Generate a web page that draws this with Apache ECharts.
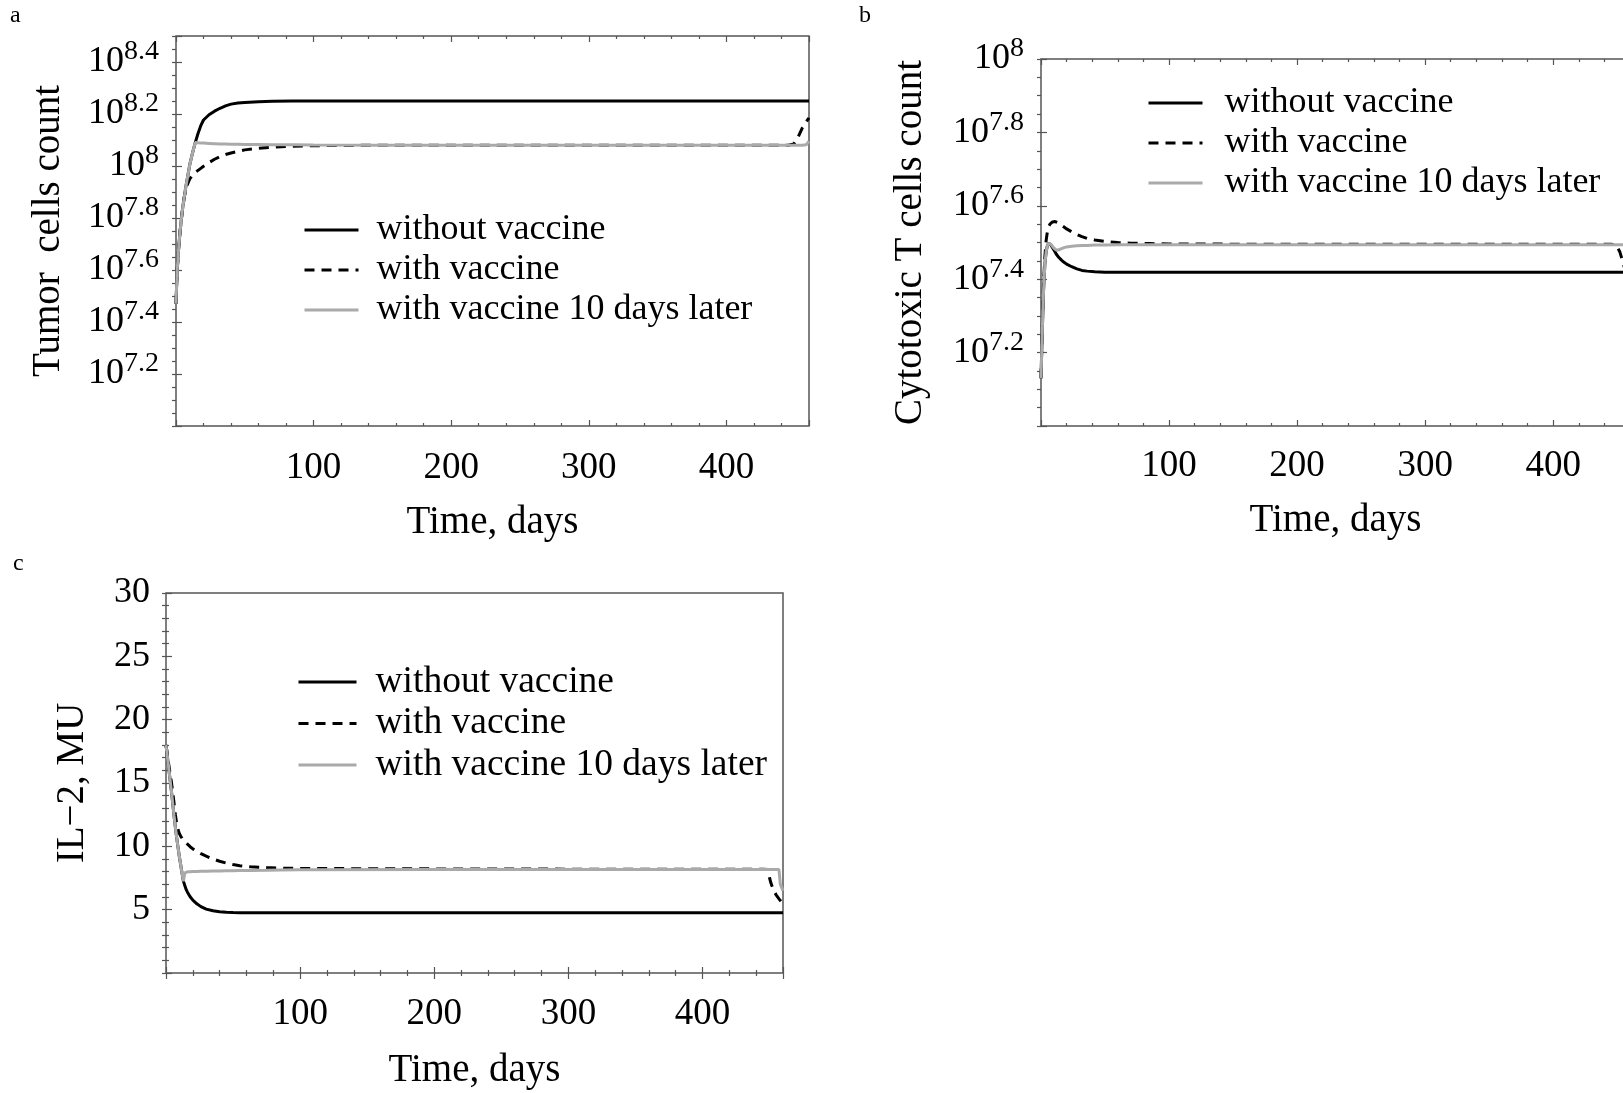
<!DOCTYPE html>
<html>
<head>
<meta charset="utf-8">
<title>Tumor, cytotoxic T cells and IL-2 over time</title>
<script src="https://cdn.jsdelivr.net/npm/echarts@6/dist/echarts.min.js"></script>
<style>
  html, body { margin: 0; padding: 0; background: #fff; }
  #chart { width: 1623px; height: 1093px; }
</style>
</head>
<body>
<div id="chart"></div>
<script>
// ---- data (log10 of counts for panels a and b) ----
const seriesNames = ["without vaccine", "with vaccine", "with vaccine 10 days later"]
const dayTicks = [100, 200, 300, 400]

// panel a: tumor cells count
const tumorDays = [0, 0.5, 1, 2, 3, 4, 5, 6, 7, 8, 10, 12, 14, 16, 18, 20, 24, 28, 32, 36, 40, 45, 50, 60, 70, 85, 100, 150, 200, 300, 400, 445, 449, 452, 455, 458, 460]
const tumorWithout = [7.47, 7.55, 7.61, 7.69, 7.75, 7.80, 7.845, 7.88, 7.915, 7.945, 8.005, 8.05, 8.09, 8.125, 8.155, 8.177, 8.197, 8.211, 8.222, 8.231, 8.238, 8.242, 8.244, 8.247, 8.249, 8.25, 8.25, 8.25, 8.25, 8.25, 8.25, 8.25, 8.25, 8.25, 8.25, 8.25, 8.25]
const tumorWith = [7.47, 7.55, 7.61, 7.69, 7.75, 7.80, 7.845, 7.88, 7.905, 7.925, 7.95, 7.965, 7.975, 7.983, 7.991, 7.999, 8.013, 8.026, 8.036, 8.044, 8.05, 8.056, 8.062, 8.068, 8.072, 8.076, 8.078, 8.08, 8.08, 8.08, 8.08, 8.08, 8.085, 8.11, 8.145, 8.17, 8.185]
const tumorLater = [7.47, 7.55, 7.61, 7.69, 7.75, 7.80, 7.845, 7.88, 7.915, 7.945, 8.005, 8.05, 8.09, 8.089, 8.088, 8.088, 8.087, 8.086, 8.085, 8.085, 8.084, 8.084, 8.083, 8.083, 8.082, 8.082, 8.081, 8.08, 8.08, 8.08, 8.08, 8.08, 8.08, 8.08, 8.08, 8.082, 8.095]
const tumorExponents = [7.2, 7.4, 7.6, 7.8, 8, 8.2, 8.4]

// panel b: cytotoxic T cells count
const ctlDays = [0, 1, 2, 3, 4, 5, 6, 6.5, 7, 8, 9, 10, 11, 12, 13, 14, 16, 18, 20, 24, 28, 32, 36, 42, 50, 60, 70, 85, 100, 200, 300, 400, 445, 449, 452, 455, 458, 460]
const ctlWithout = [7.13, 7.26, 7.37, 7.44, 7.475, 7.492, 7.498, 7.499, 7.497, 7.492, 7.486, 7.48, 7.474, 7.468, 7.463, 7.459, 7.452, 7.446, 7.441, 7.434, 7.428, 7.424, 7.422, 7.42, 7.419, 7.419, 7.419, 7.419, 7.419, 7.419, 7.419, 7.419, 7.419, 7.419, 7.419, 7.419, 7.419, 7.419]
const ctlWith = [7.13, 7.27, 7.39, 7.46, 7.505, 7.53, 7.543, 7.547, 7.55, 7.554, 7.556, 7.557, 7.557, 7.556, 7.554, 7.552, 7.547, 7.542, 7.537, 7.529, 7.522, 7.516, 7.511, 7.507, 7.503, 7.5, 7.498, 7.497, 7.496, 7.495, 7.495, 7.495, 7.495, 7.494, 7.475, 7.44, 7.40, 7.37]
const ctlLater = [7.13, 7.26, 7.37, 7.44, 7.475, 7.492, 7.498, 7.499, 7.498, 7.494, 7.489, 7.485, 7.481, 7.479, 7.479, 7.48, 7.483, 7.486, 7.488, 7.49, 7.491, 7.492, 7.492, 7.493, 7.493, 7.494, 7.494, 7.494, 7.494, 7.494, 7.494, 7.494, 7.494, 7.494, 7.494, 7.494, 7.494, 7.494]
const ctlExponents = [7.2, 7.4, 7.6, 7.8, 8]

// panel c: IL-2, MU
const il2Days = [0, 1, 2, 3, 4, 5, 6, 7, 8, 9, 10, 11, 12, 13, 14, 15, 16, 18, 20, 23, 26, 30, 35, 40, 45, 50, 55, 63, 75, 85, 100, 200, 300, 400, 445, 449, 450, 451, 453, 455, 457, 458, 460]
const il2Without = [18, 17.1, 16.2, 15.3, 14.4, 13.4, 12.4, 11.5, 10.65, 9.9, 9.15, 8.5, 7.85, 7.25, 6.9, 6.6, 6.38, 6.02, 5.75, 5.46, 5.24, 5.04, 4.91, 4.83, 4.79, 4.77, 4.76, 4.75, 4.75, 4.75, 4.75, 4.75, 4.75, 4.75, 4.75, 4.75, 4.75, 4.75, 4.75, 4.75, 4.75, 4.75, 4.75]
const il2With = [18, 17.3, 16.5, 15.8, 15.1, 14.3, 13.4, 12.5, 11.75, 11.3, 11.0, 10.8, 10.63, 10.5, 10.38, 10.27, 10.17, 9.97, 9.8, 9.6, 9.42, 9.22, 9.0, 8.82, 8.68, 8.56, 8.47, 8.38, 8.32, 8.28, 8.25, 8.22, 8.2, 8.2, 8.2, 8.18, 7.5, 7.1, 6.5, 6.15, 5.85, 5.72, 5.45]
const il2Later = [18, 17.1, 16.2, 15.3, 14.4, 13.4, 12.4, 11.5, 10.65, 9.9, 9.15, 8.5, 7.85, 7.25, 7.9, 7.97, 7.99, 8.0, 8.01, 8.02, 8.03, 8.04, 8.05, 8.06, 8.07, 8.08, 8.09, 8.1, 8.12, 8.14, 8.15, 8.17, 8.17, 8.17, 8.17, 8.17, 8.17, 8.17, 8.17, 8.17, 8.17, 7.0, 6.5]
const il2Ticks = [5, 10, 15, 20, 25, 30]

// ---- chart ----
const FONT = '"Liberation Serif", "Times New Roman", serif'
const FRAME = "#555"
const lineStyles = [
  { color: "#000", width: 3, type: "solid" },
  { color: "#000", width: 3, type: [10, 7] },
  { color: "#aaa", width: 3, type: "solid" }
]

const pairs = (days, vals) => days.map((d, i) => [d, vals[i]])

const tickStyle = { color: FRAME, width: 1.2 }

const makeXAxes = (gridIndex, nameGap, margin) => [
  {
    type: "value", gridIndex, position: "bottom", min: 0, max: 460, interval: 100,
    name: "Time, days", nameLocation: "middle", nameGap,
    nameTextStyle: { fontFamily: FONT, fontSize: 39, color: "#000" },
    axisLine: { show: false }, splitLine: { show: false },
    axisTick: { show: true, inside: true, length: 6, lineStyle: tickStyle },
    minorTick: { show: true, splitNumber: 5, length: 3, lineStyle: tickStyle },
    axisLabel: {
      margin, fontFamily: FONT, fontSize: 37, color: "#000",
      formatter: v => dayTicks.includes(v) ? String(v) : ""
    }
  },
  {
    type: "value", gridIndex, position: "top", min: 0, max: 460, interval: 100,
    axisLine: { show: false }, splitLine: { show: false },
    axisTick: { show: true, inside: true, length: 6, lineStyle: tickStyle },
    minorTick: { show: true, splitNumber: 5, length: 3, lineStyle: tickStyle },
    axisLabel: { show: false }
  }
]

const powerLabel = exps => v => {
  const r = Math.round(v * 10) / 10
  if (!exps.some(e => Math.abs(e - r) < 1e-6)) return ""
  return "{b|10}{s|" + (Number.isInteger(r) ? r : r.toFixed(1)) + "}"
}

// "10" keeps equal padding above and below so it stays centred on the tick,
// the exponent sits at the top of the padded line
const powerRich = {
  b: { fontFamily: FONT, fontSize: 36, color: "#000", padding: [6, 0, 6, 0] },
  s: { fontFamily: FONT, fontSize: 28, color: "#000", verticalAlign: "top" }
}

const makeYAxes = (gridIndex, cfg) => [
  {
    type: "value", gridIndex, position: "left", min: cfg.min, max: cfg.max, interval: cfg.interval,
    name: cfg.name, nameLocation: "middle", nameRotate: 90, nameGap: cfg.nameGap,
    nameTextStyle: { fontFamily: FONT, fontSize: 39, color: "#000" },
    axisLine: { show: false }, splitLine: { show: false },
    axisTick: { show: true, inside: true, length: 6, lineStyle: tickStyle },
    minorTick: { show: cfg.minor > 0, splitNumber: cfg.minor || 5, length: 3, lineStyle: tickStyle },
    axisLabel: {
      margin: cfg.margin, fontFamily: FONT, fontSize: 36, color: "#000",
      formatter: cfg.formatter, rich: powerRich
    }
  },
  {
    type: "value", gridIndex, position: "right", min: cfg.min, max: cfg.max, interval: cfg.interval,
    axisLine: { show: false }, splitLine: { show: false },
    axisTick: { show: true, inside: true, length: 4, lineStyle: tickStyle },
    minorTick: { show: true, splitNumber: cfg.rightMinor, length: 4, lineStyle: tickStyle },
    axisLabel: { show: false }
  }
]

const panelSeries = (axisIndex, days, lists) => lists.map((vals, k) => ({
  name: seriesNames[k],
  type: "line",
  xAxisIndex: axisIndex,
  yAxisIndex: axisIndex,
  data: pairs(days, vals),
  symbol: "none",
  smooth: false,
  lineStyle: lineStyles[k],
  itemStyle: { color: lineStyles[k].color },
  z: 2 + k,
  silent: true,
  animation: false
}))

const makeLegend = (left, top, gap, width, textPad, fontSize) => ({
  data: seriesNames,
  orient: "vertical",
  left, top,
  padding: 0,
  itemWidth: width,
  itemHeight: 20,
  itemGap: gap,
  selectedMode: false,
  itemStyle: { opacity: 0, borderWidth: 0, color: "rgba(0,0,0,0)" },
  lineStyle: { width: 3 },
  textStyle: { fontFamily: FONT, fontSize, color: "#000", lineHeight: 40, padding: [0, 0, 0, textPad] }
})

const gridBase = { show: true, borderColor: FRAME, borderWidth: 1.5, backgroundColor: "transparent", outerBoundsMode: "none" }

const chart = echarts.init(document.getElementById("chart"), null, { renderer: "canvas" })

const panelTitle = (text, left, top) => ({
  text, left, top, padding: 0,
  textStyle: { fontFamily: FONT, fontSize: 24, fontWeight: "normal", color: "#000" }
})

chart.setOption({
  backgroundColor: "#fff",
  animation: false,
  title: [
    panelTitle("a", 10, 4),
    panelTitle("b", 859, 4),
    panelTitle("c", 13, 552)
  ],
  legend: [
    makeLegend(303, 210, 0, 54, 13, 36),
    makeLegend(1147, 83, 0, 54, 17, 36),
    makeLegend(297, 662, 1.5, 58, 14, 37.5)
  ],
  grid: [
    Object.assign({ left: 176, top: 36, width: 633, height: 390 }, gridBase),
    Object.assign({ left: 1041, top: 59, width: 589, height: 367 }, gridBase),
    Object.assign({ left: 166, top: 593, width: 617, height: 380 }, gridBase)
  ],
  xAxis: [
    ...makeXAxes(0, 77, 24),
    ...makeXAxes(1, 75, 22),
    ...makeXAxes(2, 78, 23)
  ],
  yAxis: [
    ...makeYAxes(0, { min: 7, max: 8.5, interval: 0.2, name: "Tumor  cells count", nameGap: 108, margin: 17, minor: 0, rightMinor: 4, formatter: powerLabel(tumorExponents) }),
    ...makeYAxes(1, { min: 7, max: 8, interval: 0.2, name: "Cytotoxic T cells count", nameGap: 111, margin: 17, minor: 0, rightMinor: 4, formatter: powerLabel(ctlExponents) }),
    ...makeYAxes(2, { min: 0, max: 30, interval: 5, name: "IL\u22122, MU", nameGap: 74, margin: 16, minor: 5, rightMinor: 5, formatter: v => il2Ticks.includes(v) ? String(v) : "" })
  ],
  series: [
    ...panelSeries(0, tumorDays, [tumorWithout, tumorWith, tumorLater]),
    ...panelSeries(2, ctlDays, [ctlWithout, ctlWith, ctlLater]),
    ...panelSeries(4, il2Days, [il2Without, il2With, il2Later])
  ]
})

window.addEventListener("resize", () => chart.resize())
</script>
</body>
</html>
